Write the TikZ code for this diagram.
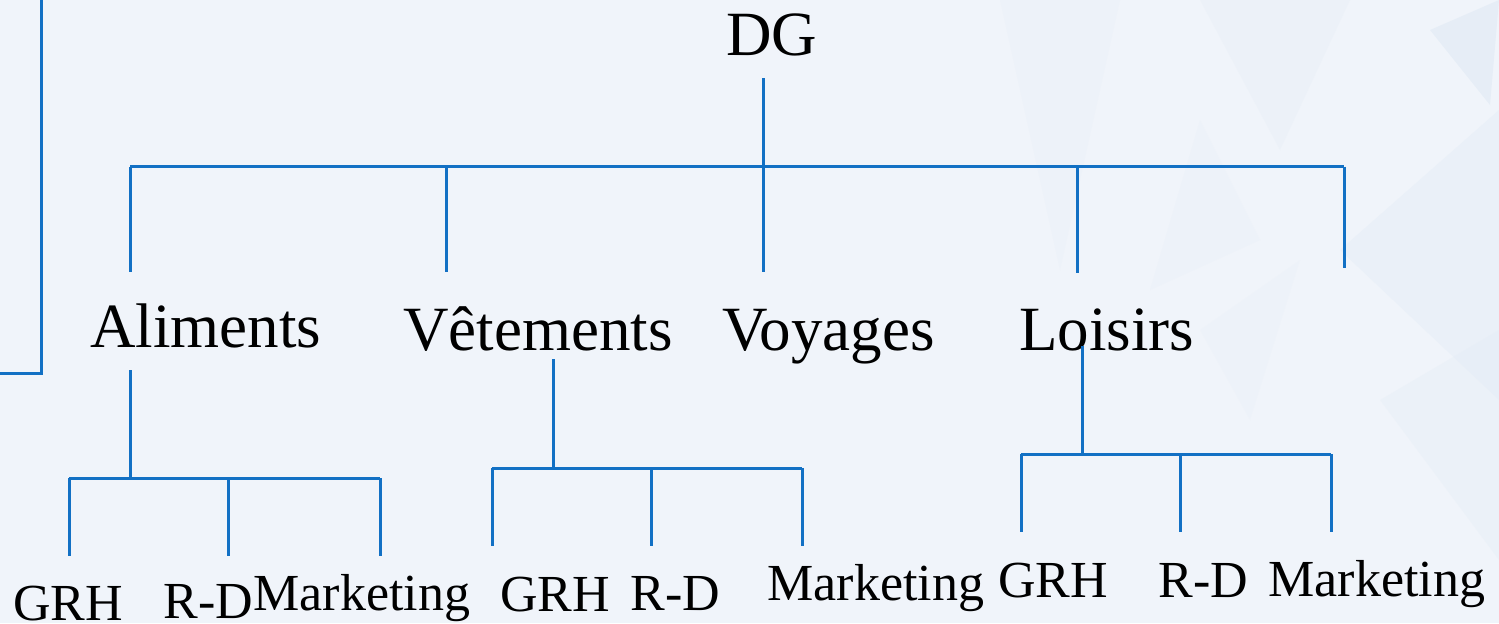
\documentclass[tikz,border=0pt]{standalone}
\usepackage{fontspec}
\setmainfont{Liberation Serif}
\definecolor{bgcol}{RGB}{240,244,250}
\definecolor{tricol}{RGB}{226,235,245}
\definecolor{linecol}{RGB}{18,112,196}
\tikzset{
  big/.style={anchor=base west,inner sep=0pt,font=\fontsize{31.5}{36}\selectfont},
  small/.style={anchor=base west,inner sep=0pt,font=\fontsize{26}{30}\selectfont},
  link/.style={draw=linecol,line width=1.5pt},
}
\begin{document}
\begin{tikzpicture}[x=0.5pt,y=-0.5pt]
\useasboundingbox (0,0) rectangle (1499,623);
\fill[bgcol] (0,0) rectangle (1499,623);
% faint background facets
\fill[tricol,opacity=0.7] (1430,30) -- (1490,105) -- (1499,0) -- cycle;
\fill[tricol,opacity=0.4] (1340,250) -- (1499,110) -- (1499,400) -- cycle;
\fill[tricol,opacity=0.25] (1200,0) -- (1350,0) -- (1280,150) -- cycle;
\fill[tricol,opacity=0.2] (1000,0) -- (1120,0) -- (1060,270) -- cycle;
\fill[tricol,opacity=0.2] (1200,120) -- (1260,240) -- (1150,290) -- cycle;
\fill[tricol,opacity=0.3] (1380,400) -- (1499,330) -- (1499,560) -- cycle;
\fill[tricol,opacity=0.15] (1200,330) -- (1300,260) -- (1250,420) -- cycle;

% texts
\node[big] (dg) at (725.7,55) {DG};
\node[big] (ali) at (90,347) {Aliments};
\node[big] (vet) at (403,350) {Vêtements};
\node[big] (voy) at (722,350) {Voyages};
\node[big] (loi) at (1019,350) {Loisirs};

\node[small] (g1) at (13,620) {GRH};
\node[small] (r1) at (163,618.5) {R-D};
\node[small] (m1) at (253,610.5) {Marketing};
\node[small] (g2) at (500,611) {GRH};
\node[small] (r2) at (630,610.5) {R-D};
\node[small] (m2) at (767,600.5) {Marketing};
\node[small] (g3) at (998,597.5) {GRH};
\node[small] (r3) at (1158,597.5) {R-D};
\node[small] (m3) at (1268,596) {Marketing};

% coordinates
\coordinate (dgs) at (763,78);
\coordinate (bl) at (130,166.7);
\coordinate (br) at (1344,166.7);
\coordinate (b2) at (446,166.7);
\coordinate (b4) at (1077,166.7);
\coordinate (ea) at (130,272);
\coordinate (ev) at (446,272);
\coordinate (ey) at (763,272);
\coordinate (el) at (1077,273);
\coordinate (ee) at (1344,268);

\coordinate (as) at (130,370);
\coordinate (aj) at (130,478);
\coordinate (a1) at (69,478);
\coordinate (a2) at (228,478);
\coordinate (a3) at (380,478);

\coordinate (vs) at (553,359);
\coordinate (vj) at (553,468);
\coordinate (v1) at (492,468);
\coordinate (v2) at (651,468);
\coordinate (v3) at (802,468);

\coordinate (ls) at (1082,346);
\coordinate (lj) at (1082,454);
\coordinate (l1) at (1021,454);
\coordinate (l2) at (1180,454);
\coordinate (l3) at (1331,454);

\coordinate (ft) at (41,0);
\coordinate (fc) at (41,373);
\coordinate (fl) at (0,373);

% connectors
\draw[link] (ft) -- (fc) -- (fl);
\draw[link] (dgs) -- (ey);
\draw[link] (bl) -- (br);
\draw[link] (bl) -- (ea);
\draw[link] (b2) -- (ev);
\draw[link] (b4) -- (el);
\draw[link] (br) -- (ee);

\draw[link] (as) -- (aj);
\draw[link] (a1) -- (a3);
\draw[link] (a1) -- (a1 |- 0,556);
\draw[link] (a2) -- (a2 |- 0,556);
\draw[link] (a3) -- (a3 |- 0,556);

\draw[link] (vs) -- (vj);
\draw[link] (v1) -- (v3);
\draw[link] (v1) -- (v1 |- 0,546);
\draw[link] (v2) -- (v2 |- 0,546);
\draw[link] (v3) -- (v3 |- 0,546);

\draw[link] (ls) -- (lj);
\draw[link] (l1) -- (l3);
\draw[link] (l1) -- (l1 |- 0,532);
\draw[link] (l2) -- (l2 |- 0,532);
\draw[link] (l3) -- (l3 |- 0,532);
\end{tikzpicture}
\end{document}
